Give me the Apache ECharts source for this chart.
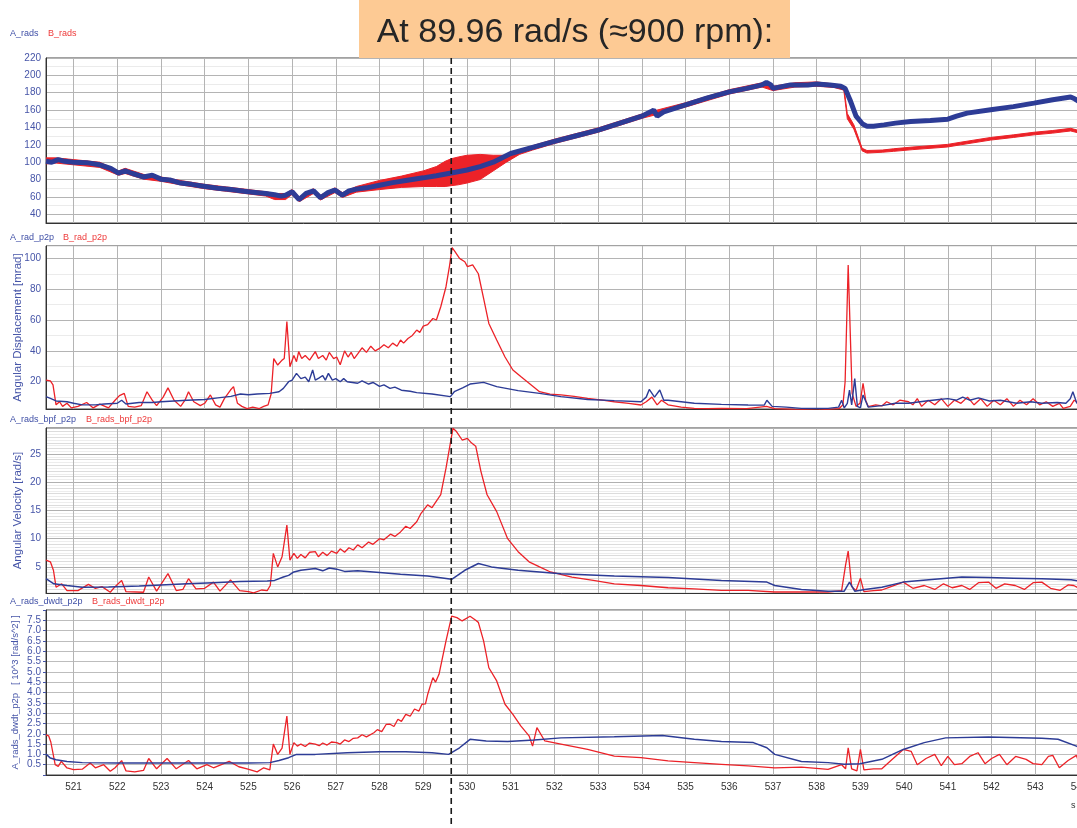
<!DOCTYPE html>
<html>
<head>
<meta charset="utf-8">
<script src="https://cdn.jsdelivr.net/npm/echarts@6/dist/echarts.min.js"></script>
<style>
  html, body { margin: 0; padding: 0; background: #ffffff; }
  #chart { width: 1077px; height: 828px; }
</style>
</head>
<body>
<div id="chart"></div>
<script>
// ---- time window (s) and operating point marker ----
const timeMin = 520.37;
const timeMax = 544;
const markerTime = 529.64;
const markerText = 'At 89.96 rad/s (\u2248900 rpm):';

// ---- panel 1: shaft speed [rad/s] ----
const A_rads = [[520.37,101],[520.5,100],[520.65,103],[520.8,101],[521.0,100],[521.3,99.5],[521.6,97],[521.85,93],[522.03,87.5],[522.18,90],[522.35,87],[522.6,83],[522.8,85],[523.0,80.5],[523.2,79.5],[523.45,76],[523.7,74.5],[523.9,73],[524.1,71.5],[524.3,70],[524.6,68.5],[524.9,66.5],[525.1,65.5],[525.4,64],[525.6,62.5],[525.75,61],[525.85,62],[526.0,66],[526.16,57],[526.32,64],[526.49,67],[526.65,59],[526.82,65],[526.98,68],[527.15,62],[527.3,67],[527.47,69],[527.7,70.5],[528.0,73.5],[528.3,76.5],[528.6,79],[529.0,82],[529.3,84.5],[529.64,87.5],[530.0,91],[530.3,95],[530.6,100],[531.0,110],[531.5,117],[532.0,124],[532.5,130.5],[533.0,137],[533.5,145],[534.0,153],[534.2,158],[534.27,160],[534.35,153],[534.5,158],[535.0,166],[535.5,174],[536.0,181],[536.4,185],[536.75,189],[536.85,192],[536.95,189],[537.0,185],[537.2,187],[537.4,189],[537.8,189],[538.0,190],[538.3,189],[538.55,187.5],[538.65,185],[538.76,172],[538.9,153],[539.05,144],[539.15,141.5],[539.3,141.5],[539.54,143],[539.8,145],[540.15,147],[540.6,148],[541.0,149.5],[541.2,153],[541.44,156.5],[541.98,160.5],[542.5,164],[542.97,168],[543.4,172],[543.81,175],[543.9,173],[544.0,170]];
// B_rads drawn as its min/max envelope (the torsional swing widens near resonance)
const B_rads_time = [520.37,520.6,521,521.6,522.03,522.18,522.6,523,523.5,524,524.5,525,525.4,525.6,525.85,526.0,526.16,526.49,526.65,526.98,527.15,527.47,528,528.5,529,529.3,529.5,529.64,529.8,530,530.3,530.6,530.9,531.2,531.5,532,533,534,535,536,536.75,537,537.5,538,538.4,538.62,538.7,538.85,539.04,539.15,539.5,539.76,540.2,540.99,541.29,541.98,542.5,542.97,543.4,543.81,544];
const B_rads_low = [98,99,97,94,85,87,80.5,78,73.5,69.5,66.5,63.5,61,57,57,63,54.5,64,56.5,65,59.5,65.5,68.5,71,72,72,72,73,74,76,80,90,100,109,114,121.5,134.5,150.5,163.5,178.5,186.5,182.5,186.5,187.5,186,183,150,138,113,110.5,111.5,112.5,114.5,117.5,120,125.5,128.5,131.5,133.5,136,133.5];
const B_rads_high = [105,105,103,100,90,93,86,83,78.5,74.5,71.5,68.5,66,64,64,68.5,60,69.5,62,70.5,65,72,79,84,90,95,101,104,106,108,109,108,108,114,119,126.5,139.5,155.5,168.5,183.5,191.5,187.5,191.5,192.5,190,187,156,143,116,113.5,114,115.5,117.5,120.5,123,128.5,131.5,134.5,136.5,139,136.5];

// ---- panel 2: angular displacement p2p [mrad] ----
const A_rad_p2p = [[520.37,10.3],[520.47,9.2],[520.6,7.5],[520.85,7],[521.0,6],[521.2,5],[521.5,5],[521.7,5.5],[522.0,6],[522.1,8],[522.2,5.5],[522.5,6.5],[522.8,6.5],[523.0,7],[523.3,7.5],[523.6,8],[524.0,8.5],[524.3,9.5],[524.6,10.5],[524.82,12],[525.0,11.5],[525.2,12],[525.49,12.4],[525.7,13.5],[525.8,15.7],[525.92,20],[526.0,21],[526.1,25.4],[526.2,22],[526.3,23],[526.38,20],[526.47,27.6],[526.53,21],[526.62,22.5],[526.7,24],[526.76,21],[526.83,25.4],[526.92,21],[527.0,22],[527.1,20],[527.18,22],[527.26,20],[527.38,19.5],[527.5,19],[527.6,20.5],[527.75,18.5],[527.85,19.5],[528.0,17],[528.1,18],[528.24,15.7],[528.35,16.5],[528.5,14.5],[528.7,13.8],[528.85,12.9],[529.2,12],[529.62,10.3],[529.71,13.5],[529.9,16],[530.07,18.5],[530.38,19.6],[530.68,16.8],[531.17,14.2],[531.66,12.4],[532.15,10.3],[532.76,8.5],[533.37,7.7],[533.98,7],[534.1,10],[534.17,15],[534.29,10],[534.41,14.6],[534.5,8],[534.6,8],[535.2,6],[535.82,5.3],[536.43,4.9],[536.8,4.8],[536.86,8],[536.98,4],[537.3,3.5],[537.65,2.7],[538.26,2.7],[538.5,3.5],[538.57,8],[538.63,3],[538.7,6],[538.75,14.6],[538.8,5],[538.87,22],[538.93,4],[539.0,3],[539.06,11.4],[539.18,3.5],[539.49,4.5],[539.8,6],[540.1,6],[540.5,7.5],[540.8,8.5],[541.0,9],[541.2,8],[541.34,10],[541.5,8],[541.7,9.5],[541.95,7.5],[542.2,8],[542.57,6],[542.9,7],[543.15,6],[543.5,6.5],[543.7,6],[543.8,9],[543.86,13.5],[543.95,6],[544,7]];
const B_rad_p2p = [[520.37,21],[520.47,20.5],[520.53,18],[520.6,5],[520.68,7],[520.75,4],[520.85,6],[520.95,3],[521.1,4],[521.3,6.5],[521.45,3],[521.6,5.5],[521.8,3],[521.95,8],[522.05,11],[522.16,12.4],[522.25,4],[522.4,3.5],[522.55,4.5],[522.68,13.5],[522.8,8],[522.9,4.5],[523.05,10],[523.16,16],[523.3,8],[523.45,4],[523.55,8],[523.63,13.5],[523.75,7],[523.9,4.5],[524.0,6],[524.13,11.4],[524.25,5],[524.35,3.5],[524.45,9],[524.59,14.6],[524.66,16.8],[524.75,6],[524.85,4],[524.97,2.5],[525.1,3.5],[525.25,2.6],[525.35,4],[525.45,5],[525.52,12],[525.58,35],[525.67,30.8],[525.77,34],[525.82,35],[525.88,59],[525.95,29.7],[526.04,37],[526.1,33],[526.15,39.5],[526.22,35],[526.3,37],[526.4,34],[526.53,39.5],[526.6,35],[526.7,37],[526.78,34],[526.85,39],[526.95,35],[527.02,36],[527.1,31],[527.2,40],[527.28,36],[527.35,39],[527.42,35],[527.5,38],[527.6,42],[527.7,39],[527.8,43],[527.9,40],[528.0,41.6],[528.1,44],[528.2,42],[528.3,45],[528.4,43],[528.48,47],[528.55,45],[528.65,48],[528.75,50],[528.85,53.5],[528.92,52],[529.0,56],[529.1,57],[529.22,61],[529.3,60],[529.4,68.6],[529.52,81.6],[529.6,95],[529.66,107],[529.71,105],[529.83,100],[529.95,97.8],[530.01,94.6],[530.13,95.7],[530.26,90],[530.38,74],[530.5,57.8],[530.68,47],[530.87,36],[531.05,27.6],[531.23,23.3],[531.42,19],[531.66,13.5],[531.9,12],[532.15,11.4],[532.45,10.5],[532.76,9.2],[533.1,8],[533.37,7],[533.7,6],[533.98,4.9],[534.1,7],[534.23,10],[534.35,5],[534.45,8],[534.6,5],[534.9,3.5],[535.2,2.7],[535.5,2.5],[535.82,2.7],[536.4,2.5],[536.85,4],[537.04,2.5],[537.5,2],[538.02,1.6],[538.51,2.5],[538.6,5],[538.65,20],[538.72,95.7],[538.78,40],[538.81,12.4],[538.9,4],[538.99,6],[539.06,19],[539.12,8],[539.18,3.8],[539.35,5],[539.49,4.3],[539.6,7],[539.75,5],[539.9,8],[540.1,7],[540.2,5],[540.3,9],[540.4,4],[540.55,8],[540.7,5],[540.85,9],[541.0,4],[541.15,8],[541.3,6],[541.45,10],[541.6,5],[541.75,9],[541.9,4],[542.05,8],[542.2,5],[542.35,9],[542.5,4],[542.65,8],[542.8,5],[542.95,9],[543.1,5],[543.25,7],[543.4,4],[543.55,6],[543.64,2.7],[543.8,4],[543.89,8],[544,6]];

// ---- panel 3: band-pass angular velocity p2p [rad/s] ----
const A_rads_bpf_p2p = [[520.37,2.9],[520.55,2],[520.85,1.7],[521.2,1.4],[521.8,1.45],[522.5,1.6],[523.0,1.8],[523.6,2],[524.2,2.2],[524.8,2.4],[525.43,2.5],[525.6,2.6],[525.8,3.2],[525.92,3.5],[526.04,4.1],[526.2,4.4],[526.53,4.7],[526.7,4.3],[526.85,4.8],[527.02,4.6],[527.2,4.2],[527.5,4.3],[528.0,4],[528.48,3.7],[529.1,3.4],[529.65,2.8],[529.95,4.4],[530.26,5.6],[530.56,5],[531.17,4.4],[532.15,3.8],[533.37,3.4],[534.6,3.1],[535.82,2.6],[536.86,2.3],[537.04,1.7],[537.65,1.0],[538.26,0.7],[538.63,0.7],[538.75,2.3],[538.87,0.7],[539.1,1],[539.49,1.4],[539.98,2.3],[540.7,2.8],[541.32,3.2],[541.93,3.1],[542.5,3],[543.15,2.9],[543.82,2.7],[544,2.5]];
const B_rads_bpf_p2p = [[520.37,6.2],[520.47,5.9],[520.54,4.4],[520.6,1.4],[520.73,2],[520.85,0.8],[521.1,0.8],[521.34,1.9],[521.5,1.2],[521.65,1.5],[521.84,0.5],[521.95,1.5],[522.1,2.6],[522.2,0.6],[522.6,0.5],[522.72,3.2],[522.9,0.7],[523.16,3.8],[523.35,0.8],[523.5,1],[523.63,2.9],[523.8,1.1],[524.0,1.2],[524.2,2.3],[524.35,0.7],[524.59,2.7],[524.8,0.8],[525.0,0.6],[525.12,0.4],[525.3,0.9],[525.43,0.8],[525.5,1.7],[525.57,7.4],[525.67,5],[525.77,6.8],[525.88,12.4],[525.95,6.2],[526.04,7.4],[526.12,6.5],[526.2,7.2],[526.3,6.6],[526.4,7.6],[526.53,7.7],[526.6,6.8],[526.7,7.6],[526.8,7],[526.9,7.8],[527.02,7.4],[527.1,8.2],[527.2,7.6],[527.3,8.4],[527.4,8],[527.5,8.9],[527.6,8.4],[527.75,9.4],[527.85,9],[528.0,10],[528.1,9.8],[528.25,10.8],[528.35,10.4],[528.48,11.2],[528.6,12.2],[528.7,11.8],[528.85,13],[528.95,14.5],[529.1,16],[529.2,15.5],[529.4,17.8],[529.52,22.5],[529.68,29.6],[529.76,29],[529.89,27.5],[530.01,27.8],[530.1,27],[530.2,26.4],[530.32,21.9],[530.46,17.8],[530.68,14.8],[530.93,10],[531.17,7.7],[531.42,5.9],[531.66,5],[531.91,4.1],[532.4,3.2],[532.89,2.6],[533.37,2],[533.98,1.7],[534.6,1.3],[535.2,1.1],[535.82,0.85],[536.43,0.85],[537.04,0.55],[537.65,0.55],[538.26,0.55],[538.57,0.8],[538.66,5.3],[538.72,7.8],[538.8,1.5],[538.9,0.8],[539.0,3],[539.08,0.6],[539.3,0.8],[539.49,0.9],[539.7,1.5],[539.98,2.3],[540.2,1.2],[540.46,1.7],[540.7,1],[540.9,2],[541.1,1.3],[541.32,1.7],[541.5,1],[541.7,2.2],[541.93,2.3],[542.1,1.2],[542.3,2],[542.54,1.7],[542.75,1],[542.95,2.2],[543.15,2.3],[543.35,1.2],[543.57,0.85],[543.75,1.8],[543.88,1.7],[544,1.2]];

// ---- panel 4: angular acceleration p2p [10^3 rad/s^2] ----
const A_rads_dwdt_p2p = [[520.37,1.02],[520.47,0.82],[520.6,0.74],[520.85,0.66],[521.2,0.6],[522,0.58],[523,0.58],[524,0.58],[525,0.58],[525.49,0.6],[525.7,0.7],[525.92,0.84],[526.1,1.0],[526.53,1.0],[527.26,1.08],[528.0,1.13],[528.6,1.13],[529.2,1.08],[529.58,1.0],[529.83,1.32],[530.07,1.73],[530.44,1.65],[530.93,1.62],[531.54,1.7],[532.15,1.8],[533.37,1.86],[534.47,1.92],[535.2,1.73],[535.82,1.62],[536.55,1.57],[536.86,1.32],[537.04,1.0],[537.65,0.65],[538.26,0.6],[538.63,0.52],[538.99,0.55],[539.49,0.76],[539.98,1.24],[540.46,1.57],[540.95,1.8],[541.93,1.84],[543.15,1.78],[543.52,1.73],[543.94,1.4],[544,1.35]];
const B_rads_dwdt_p2p = [[520.37,1.95],[520.43,1.9],[520.48,1.6],[520.58,0.5],[520.65,0.42],[520.72,0.66],[520.85,0.34],[521.0,0.26],[521.2,0.28],[521.38,0.58],[521.5,0.35],[521.69,0.5],[521.84,0.18],[521.95,0.35],[522.1,0.7],[522.2,0.2],[522.4,0.15],[522.6,0.22],[522.72,0.8],[522.9,0.3],[523.14,0.8],[523.35,0.3],[523.63,0.7],[523.82,0.3],[524.05,0.5],[524.2,0.35],[524.56,0.66],[524.78,0.4],[524.97,0.3],[525.2,0.15],[525.35,0.35],[525.49,0.25],[525.57,1.5],[525.67,1.0],[525.77,1.3],[525.88,2.86],[525.95,1.0],[526.04,1.57],[526.12,1.4],[526.2,1.5],[526.3,1.38],[526.4,1.55],[526.53,1.5],[526.62,1.42],[526.7,1.55],[526.8,1.45],[526.9,1.6],[527.02,1.57],[527.1,1.5],[527.2,1.7],[527.3,1.62],[527.4,1.78],[527.5,1.8],[527.6,1.95],[527.7,1.85],[527.87,2.05],[527.95,2.2],[528.05,2.1],[528.15,2.45],[528.24,2.46],[528.33,2.35],[528.42,2.7],[528.5,2.6],[528.6,2.94],[528.7,2.85],[528.8,3.2],[528.9,3.1],[528.97,3.43],[529.05,3.45],[529.1,3.9],[529.22,4.72],[529.28,4.5],[529.36,4.88],[529.52,6.5],[529.65,7.7],[529.77,7.63],[529.89,7.47],[530.07,7.7],[530.2,7.5],[530.26,7.4],[530.38,6.5],[530.5,5.2],[530.68,4.56],[530.87,3.43],[531.05,2.94],[531.23,2.38],[531.42,1.9],[531.5,1.4],[531.6,2.3],[531.78,1.65],[532.15,1.5],[532.76,1.24],[533.37,0.92],[533.98,0.84],[534.6,0.68],[535.2,0.6],[535.82,0.52],[536.43,0.44],[537.04,0.35],[537.65,0.38],[538.26,0.27],[538.57,0.5],[538.66,0.3],[538.72,1.32],[538.8,0.3],[538.92,0.2],[539.0,1.24],[539.08,0.25],[539.3,0.3],[539.49,0.3],[539.73,0.76],[539.98,1.24],[540.16,1.15],[540.3,0.5],[540.5,0.8],[540.7,1.0],[540.85,0.45],[541.0,0.9],[541.15,0.5],[541.32,0.55],[541.5,0.9],[541.69,1.08],[541.85,0.55],[542.0,0.8],[542.18,1.0],[542.35,0.5],[542.55,0.9],[542.79,0.76],[542.95,0.55],[543.15,0.5],[543.3,0.9],[543.4,0.95],[543.55,0.35],[543.75,0.7],[543.94,0.95],[544,0.6]];

// ---- styling ----
const BLUE = '#2d3c96';
const RED = '#ec2228';
const AXIS_BLUE = '#4655a8';
const FONT = '"Liberation Sans", Arial, sans-serif';

const panels = [
  { top: 58,  height: 165, title: '' },
  { top: 246, height: 163, title: 'Angular Displacement [mrad]', size: 11.5, x: 18 },
  { top: 428, height: 165, title: 'Angular Velocity [rad/s]', size: 11.5, x: 18 },
  { top: 610, height: 165, title: 'A_rads_dwdt_p2p   [ 10^3 [rad/s^2] ]', size: 9.5, x: 15 }
];

const grids = panels.map(p => ({
  left: 46, right: -2, top: p.top, height: p.height,
  outerBoundsMode: 'none', containLabel: false,
  show: true, borderColor: '#444', borderWidth: 1, backgroundColor: 'transparent'
}));

const xAxes = panels.map((p, i) => ({
  type: 'value', gridIndex: i, min: timeMin, max: timeMax,
  splitNumber: 24, minInterval: 1, maxInterval: 1,
  axisLine: { show: true, lineStyle: { color: '#333', width: 1 } },
  axisTick: { show: false },
  axisLabel: {
    show: i === 3, color: '#333', fontSize: 10, fontFamily: FONT, margin: 7,
    showMinLabel: false, hideOverlap: false,
    formatter: v => (Math.abs(v - Math.round(v)) < 1e-6 ? String(Math.round(v)) : '')
  },
  splitLine: { show: true, lineStyle: { color: '#b4b4b4', width: 1 } }
}));

function yLabel(show) {
  return { color: AXIS_BLUE, fontSize: 10, fontFamily: FONT, margin: 5, formatter: show };
}

const yAxes = [
  {
    type: 'value', gridIndex: 0, min: 30, max: 220, interval: 10,
    axisLine: { show: true, lineStyle: { color: '#333' } },
    axisTick: { show: false },
    axisLabel: yLabel(v => (v % 20 === 0 ? String(v) : '')),
    splitLine: { lineStyle: { color: ['#ebebeb', '#b4b4b4'] } }
  },
  {
    type: 'value', gridIndex: 1, min: 2.3, max: 108, minInterval: 10, maxInterval: 10,
    axisLine: { show: true, lineStyle: { color: '#333' } },
    axisTick: { show: false },
    axisLabel: yLabel(v => (Math.abs(v % 20) < 1e-6 && v > 0 ? String(v) : '')),
    splitLine: { lineStyle: { color: ['#b4b4b4', '#ebebeb'] } }
  },
  {
    type: 'value', gridIndex: 2, min: 0.37, max: 29.63, minInterval: 0.5, maxInterval: 0.5,
    axisLine: { show: true, lineStyle: { color: '#333' } },
    axisTick: { show: false },
    axisLabel: yLabel(v => (Math.abs(v % 5) < 1e-6 && v > 0 ? String(v) : '')),
    splitLine: { lineStyle: { color: ['#b0b0b0', '#ededed', '#dcdcdc', '#ededed', '#dcdcdc', '#ededed', '#dcdcdc', '#ededed', '#dcdcdc', '#ededed'] } }
  },
  {
    type: 'value', gridIndex: 3, min: 0, max: 8, interval: 0.5,
    axisLine: { show: true, lineStyle: { color: '#333' } },
    axisTick: { show: true, length: 3, lineStyle: { color: AXIS_BLUE } },
    axisLabel: yLabel(v => (v > 0 && v < 8 ? v.toFixed(1) : '')),
    splitLine: { lineStyle: { color: '#bdbdbd' } }
  }
];

function lineSeries(name, data, idx, color, width, z) {
  return {
    name, type: 'line', data, xAxisIndex: idx, yAxisIndex: idx,
    showSymbol: false, symbol: 'none', smooth: false, z: z,
    lineStyle: { color, width }, emphasis: { disabled: true }
  };
}

// B_rads envelope: one filled polygon, upper edge forward then lower edge back
const bEnvelope = B_rads_time.map((t, i) => [t, B_rads_low[i], B_rads_high[i]]);

function renderEnvelope(params, api) {
  if (params.dataIndexInside !== 0) return null;
  const n = params.dataInsideLength;
  const upper = [], lower = [];
  for (let k = 0; k < n; k++) {
    const t = api.value(0, k);
    upper.push(api.coord([t, api.value(2, k)]));
    lower.push(api.coord([t, api.value(1, k)]));
  }
  return {
    type: 'polygon',
    shape: { points: upper.concat(lower.reverse()) },
    style: { fill: RED, stroke: RED, lineWidth: 1 }
  };
}

const series = [
  {
    name: 'B_rads', type: 'custom', xAxisIndex: 0, yAxisIndex: 0, z: 3,
    data: bEnvelope, encode: { x: 0, y: [1, 2] },
    renderItem: renderEnvelope, clip: true, silent: true
  },
  lineSeries('A_rads', A_rads, 0, BLUE, 5, 4),
  lineSeries('B_rad_p2p', B_rad_p2p, 1, RED, 1.3, 3),
  lineSeries('A_rad_p2p', A_rad_p2p, 1, BLUE, 1.4, 4),
  lineSeries('B_rads_bpf_p2p', B_rads_bpf_p2p, 2, RED, 1.3, 3),
  lineSeries('A_rads_bpf_p2p', A_rads_bpf_p2p, 2, BLUE, 1.5, 4),
  lineSeries('B_rads_dwdt_p2p', B_rads_dwdt_p2p, 3, RED, 1.3, 3),
  lineSeries('A_rads_dwdt_p2p', A_rads_dwdt_p2p, 3, BLUE, 1.5, 4)
];

// per-panel legend captions
const legendRows = [
  { y: 34,  a: 'A_rads',          ax: 10, b: 'B_rads',          bx: 48 },
  { y: 238, a: 'A_rad_p2p',       ax: 10, b: 'B_rad_p2p',       bx: 63 },
  { y: 420, a: 'A_rads_bpf_p2p',  ax: 10, b: 'B_rads_bpf_p2p',  bx: 86 },
  { y: 602, a: 'A_rads_dwdt_p2p', ax: 10, b: 'B_rads_dwdt_p2p', bx: 92 }
];
const graphicTexts = [];
legendRows.forEach((r, i) => {
  graphicTexts.push({ type: 'text', id: 'la' + i, x: r.ax, y: r.y, z: 50,
    style: { text: r.a, fill: '#3f4fa6', font: '9px ' + FONT, textVerticalAlign: 'middle' } });
  graphicTexts.push({ type: 'text', id: 'lb' + i, x: r.bx, y: r.y, z: 50,
    style: { text: r.b, fill: '#ee3a3a', font: '9px ' + FONT, textVerticalAlign: 'middle' } });
});
// vertical y-axis titles, centred on each panel
panels.forEach((p, i) => {
  if (!p.title) return;
  graphicTexts.push({ type: 'text', id: 'yt' + i, x: p.x, y: p.top + p.height / 2, rotation: Math.PI / 2, z: 50,
    style: { text: p.title, fill: AXIS_BLUE, font: p.size + 'px ' + FONT,
             textAlign: 'center', textVerticalAlign: 'middle' } });
});
graphicTexts.push({ type: 'text', id: 'unit', x: 1071, y: 806, z: 50,
  style: { text: 's', fill: '#333', font: '9px ' + FONT, textVerticalAlign: 'middle' } });

const chart = echarts.init(document.getElementById('chart'), null, { renderer: 'canvas' });
chart.setOption({
  animation: false,
  backgroundColor: '#ffffff',
  grid: grids,
  xAxis: xAxes,
  yAxis: yAxes,
  series: series,
  graphic: { elements: graphicTexts }
});

// dashed marker at the operating point, placed through the x scale
const markerX = chart.convertToPixel({ xAxisIndex: 0 }, markerTime);
chart.setOption({
  graphic: {
    elements: [
      { type: 'line', id: 'marker', z: 90,
        shape: { x1: markerX, y1: 58, x2: markerX, y2: 828 },
        style: { stroke: '#1a1a1a', lineWidth: 1.6, lineDash: [6, 4] } },
      { type: 'rect', id: 'titleBox', z: 95,
        shape: { x: 359, y: 0, width: 431, height: 58 },
        style: { fill: '#fdca94' } },
      { type: 'text', id: 'titleText', z: 96, x: 575, y: 33,
        style: { text: markerText, fill: '#262626', font: '34px ' + FONT,
                 textAlign: 'center', textVerticalAlign: 'middle' } }
    ]
  }
});
</script>
</body>
</html>
